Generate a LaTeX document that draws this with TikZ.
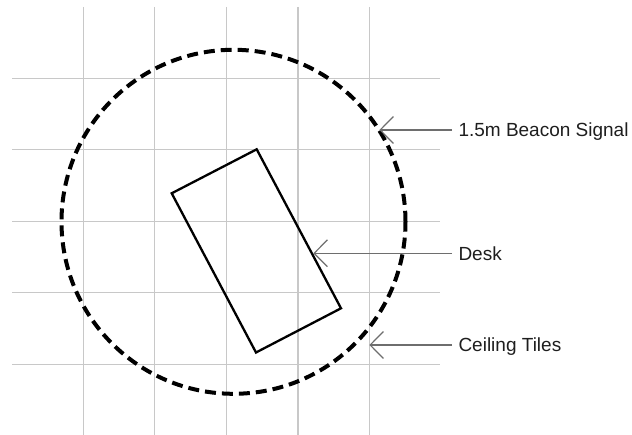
\documentclass[tikz,border=0pt]{standalone}
\usepackage{fontspec}
\setmainfont{Liberation Sans}
\usetikzlibrary{arrows.meta}
\definecolor{gridgray}{RGB}{200,200,200}
\definecolor{arrowgray}{RGB}{110,110,110}
\definecolor{textgray}{RGB}{30,30,30}
\tikzset{
  gridline/.style={draw=gridgray, line width=1.1pt},
  signal/.style={draw=black, line width=4pt, dash pattern=on 11pt off 6pt},
  desk/.style={draw=black, line width=2.3pt, line join=miter},
  pointer/.style={draw=arrowgray, line width=1.3pt, -{Straight Barb[length=13.3pt,width=27pt,line width=1.2pt]}},
  label/.style={anchor=base west, inner xsep=6.3pt, inner ysep=0pt, text=textgray, font=\fontsize{19}{22}\selectfont}
}
\begin{document}
\begin{tikzpicture}[x=1pt,y=-1pt]
\useasboundingbox (0,0) rectangle (632,435);
% grid
\foreach \i in {0,...,4} {
  \draw[gridline] ({83.3+71.55*\i},7) -- ({83.3+71.55*\i},435);
  \draw[gridline] (12,{78.4+71.5*\i}) -- (440,{78.4+71.5*\i});
}
% beacon circle
\node[signal, circle, minimum size=344pt, inner sep=0pt, fill=none] (beacon) at (233.5,221.8) {};
% desk
\draw[desk] (171.7,193.3) coordinate (d1) -- (256.7,149.3) coordinate (d2)
  -- (341,308.3) coordinate (d3) -- (256,352.5) coordinate (d4) -- cycle;
% labels
\coordinate (btip) at (379.3,130);
\coordinate (dtip) at (313.3,253.3);
\coordinate (ctip) at (369.3,345);
\node[label] (lbeacon) at (452,136.7) {1.5m Beacon Signal};
\node[label] (ldesk) at (452,260.1) {Desk};
\node[label] (lceil) at (452,351.8) {Ceiling Tiles};
\draw[pointer] (lbeacon.west |- btip) -- (btip);
\draw[pointer] (ldesk.west |- dtip) -- (dtip);
\draw[pointer] (lceil.west |- ctip) -- (ctip);
\end{tikzpicture}
\end{document}
